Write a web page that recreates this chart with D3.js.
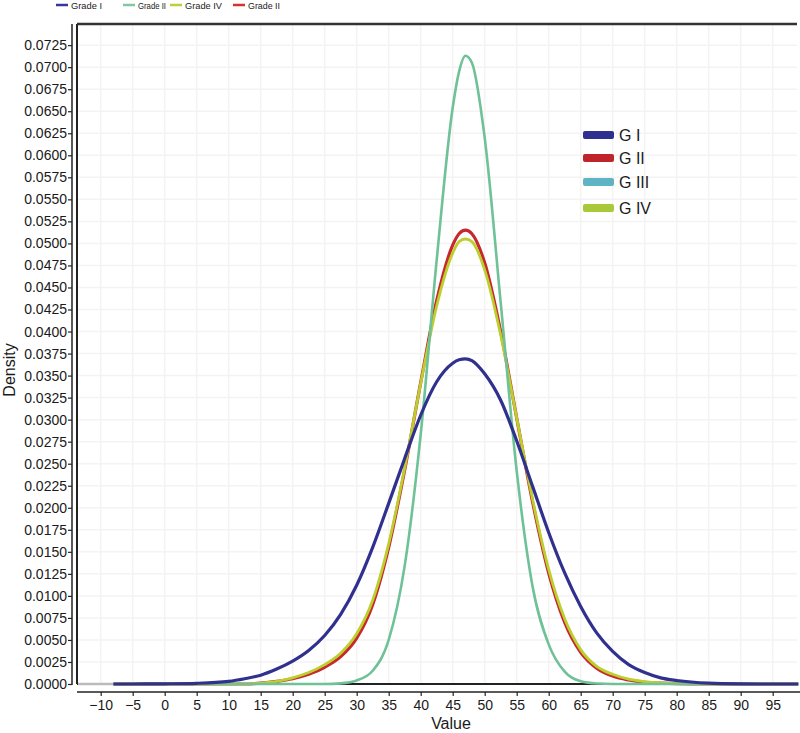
<!DOCTYPE html>
<html><head><meta charset="utf-8">
<script src="https://cdn.jsdelivr.net/npm/d3@7"></script>
<style>body{margin:0;background:#fff}svg{display:block;font-family:"Liberation Sans",Arial,sans-serif}</style>
</head><body><svg id="c" width="800" height="733"></svg>
<script>
const xValues = [-8,-5,0,5,10,12.5,15,17.5,20,22.5,25,27.5,30,32.5,35,37.5,40,42.5,45,46,47,48,50,52.5,55,57.5,60,62.5,65,67.5,70,72.5,75,77.5,80,85,90,95,99];
const gradeI   = [0,0,0.00002,0.00008,0.0003,0.0006,0.0010,0.0017,0.0026,0.0038,0.0055,0.0079,0.0112,0.0155,0.0205,0.0256,0.0305,0.0343,0.0364,0.0368,0.0369,0.0367,0.0352,0.0322,0.0276,0.0224,0.0172,0.0126,0.0088,0.0058,0.0037,0.0022,0.0013,0.0007,0.0004,0.0001,0.00002,0,0];
const gradeII  = [0,0,0,0,0,0,0.0001,0.0003,0.0006,0.0011,0.0019,0.0031,0.0052,0.0090,0.0155,0.0243,0.0342,0.0435,0.0498,0.0511,0.0515,0.0511,0.0478,0.0400,0.0302,0.0206,0.0126,0.0070,0.0036,0.0018,0.0009,0.00045,0.0002,0.0001,0.00004,0,0,0,0];
const gradeIII = [0,0,0,0,0,0,0,0,0,0,0,0.00007,0.0004,0.0015,0.0050,0.0134,0.0283,0.0481,0.0654,0.0695,0.0713,0.0705,0.0620,0.0433,0.0242,0.0110,0.0045,0.0014,0.0003,0.00005,0,0,0,0,0,0,0,0,0];
const gradeIV  = [0,0,0,0,0,0,0.0001,0.0003,0.0007,0.0013,0.0022,0.0035,0.0057,0.0095,0.0159,0.0245,0.0341,0.0429,0.0489,0.0502,0.0505,0.0502,0.0470,0.0396,0.0302,0.0209,0.0130,0.0074,0.0039,0.0020,0.0011,0.00055,0.00028,0.00012,0.00005,0,0,0,0];
const xTicks = [-10,-5,0,5,10,15,20,25,30,35,40,45,50,55,60,65,70,75,80,85,90,95];
const yTicks = d3.range(0,30).map(i=>i*0.0025);
const topLegend = [{label:"Grade I",color:"#36379a"},{label:"Grade II",color:"#80c8a2"},{label:"Grade IV",color:"#bdd03a"},{label:"Grade II",color:"#d2352e"}];
const innerLegend = [{label:"G I",color:"#2e2f8f"},{label:"G II",color:"#c0242b"},{label:"G III",color:"#5fb4c4"},{label:"G IV",color:"#a9c93a"}];

const svg = d3.select("#c");
const L=77,R=797,T=24,B=684;
const x = d3.scaleLinear().domain([-13.7,98.8]).range([L,R]);
const y = d3.scaleLinear().domain([0,0.0749]).range([B,T]);

// grid
const g = svg.append("g");
g.selectAll("line.vg").data(xTicks).join("line").attr("x1",d=>x(d)).attr("x2",d=>x(d)).attr("y1",T).attr("y2",B).attr("stroke","#f5f2f2").attr("stroke-width",1.5);
g.selectAll("line.hg").data(yTicks).join("line").attr("y1",d=>y(d)).attr("y2",d=>y(d)).attr("x1",L).attr("x2",R).attr("stroke","#f5f2f2").attr("stroke-width",1.5);

// frame
svg.append("line").attr("x1",L).attr("x2",L).attr("y1",T).attr("y2",B).attr("stroke","#222").attr("stroke-width",2);
svg.append("line").attr("x1",L).attr("x2",R).attr("y1",T).attr("y2",T).attr("stroke","#333").attr("stroke-width",2.5);
svg.append("line").attr("x1",L).attr("x2",R).attr("y1",B).attr("y2",B).attr("stroke","#222").attr("stroke-width",2);
svg.append("line").attr("x1",L+1).attr("x2",x(-8)).attr("y1",B).attr("y2",B).attr("stroke","#bbb").attr("stroke-width",2.5);

// axes
const yAxis = d3.axisLeft(y).tickValues(yTicks).tickFormat(d3.format(".4f")).tickSizeOuter(0).tickSize(4);
const ya = svg.append("g").attr("transform","translate(72,0)").call(yAxis);
ya.select(".domain").attr("stroke","#222").attr("stroke-width",1.5).attr("d",`M0,${T}V${B+1}`);
ya.selectAll(".tick line").attr("stroke","#222").attr("stroke-width",1.2);
ya.selectAll("text").attr("font-size",14).attr("fill","#1a1a1a").attr("x",-5).attr("font-family","Liberation Sans, Arial, sans-serif");

const xAxis = d3.axisBottom(x).tickValues(xTicks).tickFormat(d=>d<0?"\u2212"+Math.abs(d):d).tickSizeOuter(0).tickSize(4);
const xa = svg.append("g").attr("transform","translate(0,692)").call(xAxis);
xa.select(".domain").attr("stroke","#222").attr("stroke-width",1.5).attr("d",`M${L},0H800`);
xa.selectAll(".tick line").attr("stroke","#222").attr("stroke-width",1.2);
xa.selectAll("text").attr("font-size",14).attr("fill","#1a1a1a").attr("y",8).attr("font-family","Liberation Sans, Arial, sans-serif");

svg.append("text").attr("x",451).attr("y",729).attr("text-anchor","middle").attr("font-size",16).attr("fill","#1a1a1a").text("Value");
svg.append("text").attr("transform","translate(15,370) rotate(-90)").attr("text-anchor","middle").attr("font-size",16).attr("fill","#1a1a1a").text("Density");

// curves
const line = d3.line().x((d,i)=>x(xValues[i])).y(d=>y(d)).curve(d3.curveMonotoneX);
const series = [
  {data:gradeII,color:"#c6282e",w:3.2},
  {data:gradeIV,color:"#bccf2e",w:2.8},
  {data:gradeIII,color:"#6fc197",w:2.6},
  {data:gradeI,color:"#30318f",w:3.2}
];
series.forEach(s=>{
  svg.append("path").attr("d",line(s.data)).attr("fill","none").attr("stroke",s.color).attr("stroke-width",s.w).attr("stroke-linejoin","round");
});

// inner legend
const il = svg.append("g");
innerLegend.forEach((d,i)=>{
  const yy=[135,158,182,208][i];
  il.append("rect").attr("x",583).attr("y",yy-4).attr("width",31).attr("height",8).attr("rx",2).attr("fill",d.color);
  il.append("text").attr("x",619).attr("y",yy+6).attr("font-size",16).attr("fill","#1a1a1a").text(d.label);
});

// top legend
const tl = svg.append("g");
const tx=[56,123,170,233];
const tw=[31,28,37,32];
topLegend.forEach((d,i)=>{
  tl.append("line").attr("x1",tx[i]).attr("x2",tx[i]+12).attr("y1",5).attr("y2",5).attr("stroke",d.color).attr("stroke-width",2.5);
  tl.append("text").attr("x",tx[i]+15).attr("y",8.5).attr("font-size",9.5).attr("fill","#222")
    .attr("textLength",tw[i]).attr("lengthAdjust","spacingAndGlyphs").text(d.label);
});
</script></body></html>
